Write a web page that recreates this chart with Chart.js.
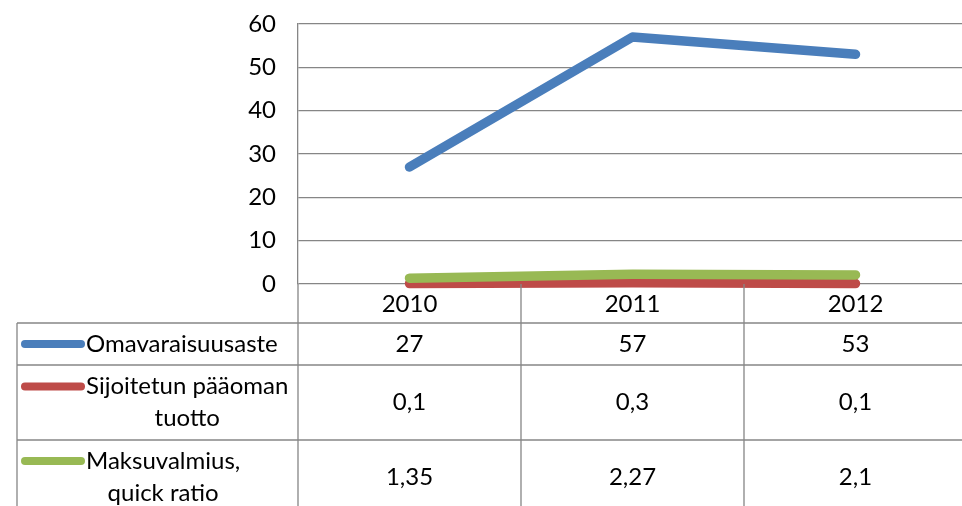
<!DOCTYPE html>
<html>
<head>
<meta charset="utf-8">
<script src="https://cdn.jsdelivr.net/npm/chart.js@4/dist/chart.umd.min.js"></script>
<style>
    html, body { margin: 0; padding: 0; overflow: hidden; background: #fff; }
</style>
</head>
<body>
<canvas id="chart" width="972" height="506"></canvas>
<script>
// Data
const years = ['2010', '2011', '2012'];
const equityRatio = [27, 57, 53];
const returnOnCapital = [0.1, 0.3, 0.1];
const quickRatio = [1.35, 2.27, 2.1];
const yTicks = [0, 10, 20, 30, 40, 50, 60];

const series = [
    { lines: ['Omavaraisuusaste'], data: equityRatio, color: '#4a7ebb' },
    { lines: ['Sijoitetun pääoman', 'tuotto'], data: returnOnCapital, color: '#be4b48' },
    { lines: ['Maksuvalmius,', 'quick ratio'], data: quickRatio, color: '#98b954' }
];

const FONT_SIZE = 24;
const FONT = FONT_SIZE + 'px Lato';
const GRID = '#868686';
const fmt = v => String(v).replace('.', ',');

// Excel-style data table under the plot
const dataTable = {
    id: 'dataTable',
    afterDraw(chart) {
        const { ctx, chartArea, scales } = chart;
        const x = scales.x;
        const step = x.getPixelForValue(1) - x.getPixelForValue(0);
        const tableLeft = 17;
        const right = chart.width;
        const bottom = chart.height;
        const headerTop = chartArea.bottom;
        const rowLines = [headerTop + 39, headerTop + 81, headerTop + 156];
        const rowBottoms = [rowLines[1], rowLines[2], headerTop + 230];

        ctx.save();
        ctx.strokeStyle = GRID;
        ctx.lineWidth = 1.3;
        ctx.beginPath();
        rowLines.forEach(y => {
            ctx.moveTo(tableLeft, y);
            ctx.lineTo(right, y);
        });
        ctx.moveTo(tableLeft, rowLines[0]);
        ctx.lineTo(tableLeft, bottom);
        years.forEach((_, i) => {
            const bx = x.getPixelForValue(i) - step / 2;
            ctx.moveTo(bx, headerTop);
            ctx.lineTo(bx, bottom);
        });
        ctx.stroke();

        ctx.fillStyle = '#000';
        ctx.font = FONT;
        ctx.textAlign = 'center';
        ctx.textBaseline = 'middle';
        years.forEach((yr, i) => {
            ctx.fillText(yr, x.getPixelForValue(i), headerTop + 20);
        });

        series.forEach((s, r) => {
            const top = rowLines[r];
            const mid = (top + rowBottoms[r]) / 2;
            s.data.forEach((v, i) => {
                ctx.fillText(fmt(v), x.getPixelForValue(i), mid);
            });

            const lineH = 32;
            const firstY = mid - (s.lines.length - 1) * lineH / 2;
            ctx.strokeStyle = s.color;
            ctx.lineWidth = 8;
            ctx.lineCap = 'round';
            ctx.beginPath();
            ctx.moveTo(25, firstY);
            ctx.lineTo(81, firstY);
            ctx.stroke();

            const blockW = Math.max(...s.lines.map(t => ctx.measureText(t).width));
            const cx = 86 + blockW / 2;
            s.lines.forEach((t, k) => {
                ctx.fillText(t, cx, firstY + k * lineH);
            });
        });
        ctx.restore();
    }
};

new Chart(document.getElementById('chart'), {
    type: 'line',
    data: {
        labels: years,
        datasets: series.map((s, i) => ({
            label: s.lines.join(' '),
            data: s.data,
            borderColor: s.color,
            backgroundColor: s.color,
            borderWidth: 9.5,
            borderCapStyle: 'round',
            borderJoinStyle: 'round',
            pointRadius: 0,
            tension: 0,
            clip: false,
            order: series.length - 1 - i
        }))
    },
    options: {
        responsive: false,
        animation: false,
        layout: { padding: { top: 24, right: 5, bottom: 222, left: 0 } },
        plugins: {
            legend: { display: false },
            tooltip: { enabled: false }
        },
        scales: {
            x: { display: false, offset: true },
            y: {
                min: 0,
                max: 60,
                afterBuildTicks: scale => { scale.ticks = yTicks.map(v => ({ value: v })); },
                afterFit: scale => {
                    scale.width = 298;
                    scale.paddingTop = 0;
                    scale.paddingBottom = 0;
                },
                ticks: { color: '#000', padding: 22, font: { family: 'Lato', size: FONT_SIZE } },
                grid: { color: GRID, lineWidth: 1.3, drawTicks: false },
                border: { color: GRID, width: 1.3 }
            }
        }
    },
    plugins: [dataTable]
});
</script>
</body>
</html>
